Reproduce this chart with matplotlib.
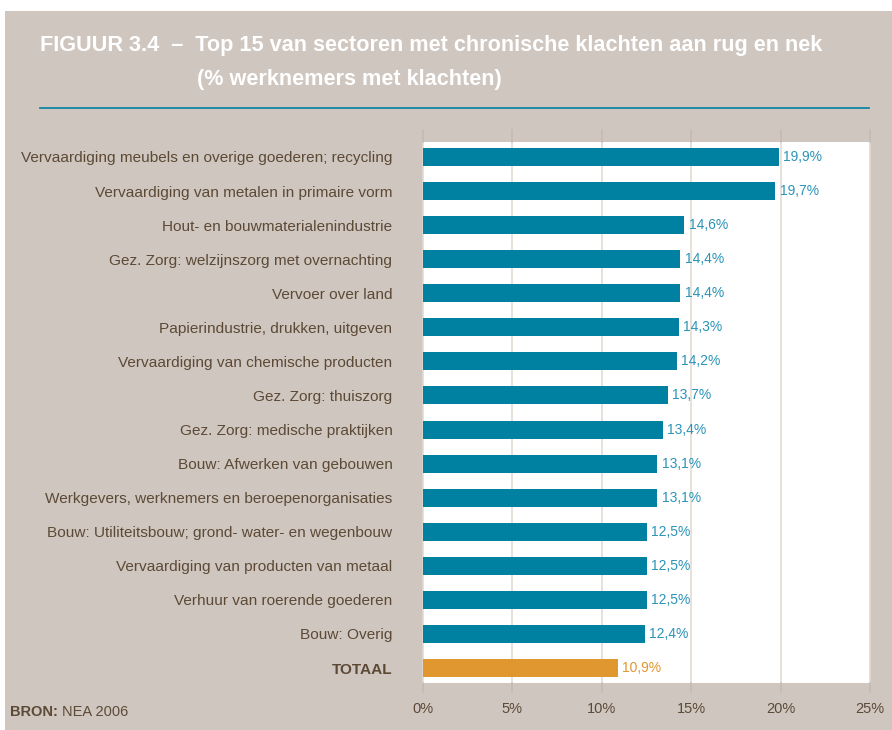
import matplotlib.pyplot as plt
import numpy as np

sectors = [
    "Vervaardiging meubels en overige goederen; recycling",
    "Vervaardiging van metalen in primaire vorm",
    "Hout- en bouwmaterialenindustrie",
    "Gez. Zorg: welzijnszorg met overnachting",
    "Vervoer over land",
    "Papierindustrie, drukken, uitgeven",
    "Vervaardiging van chemische producten",
    "Gez. Zorg: thuiszorg",
    "Gez. Zorg: medische praktijken",
    "Bouw: Afwerken van gebouwen",
    "Werkgevers, werknemers en beroepenorganisaties",
    "Bouw: Utiliteitsbouw; grond- water- en wegenbouw",
    "Vervaardiging van producten van metaal",
    "Verhuur van roerende goederen",
    "Bouw: Overig",
    "TOTAAL",
]
pct = [19.9, 19.7, 14.6, 14.4, 14.4, 14.3, 14.2, 13.7, 13.4, 13.1, 13.1, 12.5, 12.5, 12.5, 12.4, 10.9]
xticks = [0, 5, 10, 15, 20, 25]

BG = "#cfc6bf"
TEAL = "#0081a1"
ORANGE = "#e1972f"
TEXT = "#5c4a36"
VAL = "#2a94b8"

plt.rcParams['font.family'] = ['Liberation Sans', 'DejaVu Sans']

fig = plt.figure(figsize=(8.92, 7.3), dpi=100, facecolor="white")
# beige panel behind everything
fig.patches.append(plt.Rectangle((5 / 892, 0), 1, 1 - 11 / 730, transform=fig.transFigure,
                                 facecolor=BG, edgecolor="none", zorder=-5))

ax = fig.add_axes([423 / 892, 47 / 730, 447 / 892, 541 / 730])
ax.set_facecolor("white")
y = np.arange(len(sectors))
colors = [TEAL] * (len(sectors) - 1) + [ORANGE]
ax.barh(y, pct, height=0.53, color=colors, zorder=3)
ax.set_xlim(0, 25)
ax.set_ylim(len(sectors) - 0.56, -0.44)

for s in ax.spines.values():
    s.set_visible(False)
ax.tick_params(length=0)
ax.set_yticks(y)
ax.set_yticklabels(sectors, fontsize=11.1, color=TEXT)
ax.get_yticklabels()[-1].set_fontweight("bold")
ax.set_xticks(xticks)
ax.set_xticklabels([f"{t}%" for t in xticks], fontsize=10.5, color=TEXT)
ax.tick_params(axis="x", pad=14)
ax.tick_params(axis="y", pad=22)

# grid lines: light inside the white area, slightly darker where they run into the panel
for t in xticks:
    ax.plot([t, t], [-0.44, len(sectors) - 0.56], color="#e0d9d2", lw=1.1,
            zorder=1, clip_on=False)
    ax.plot([t, t], [-0.8, -0.44], color="#c4bab2", lw=1.1, zorder=1, clip_on=False)
    ax.plot([t, t], [len(sectors) - 0.56, len(sectors) - 0.3], color="#c4bab2", lw=1.1,
            zorder=1, clip_on=False)

for i, v in enumerate(pct):
    c = ORANGE if i == len(pct) - 1 else VAL
    ax.text(v + 0.25, i, f"{v:.1f}%".replace(".", ","), va="center", ha="left",
            fontsize=10, color=c, zorder=4)

fig.text(40 / 892, 1 - 45 / 730,
         "FIGUUR 3.4  –  Top 15 van sectoren met chronische klachten aan rug en nek",
         color="white", fontsize=15.6, fontweight="bold", va="center")
fig.text(197 / 892, 1 - 80 / 730, "(% werknemers met klachten)",
         color="white", fontsize=15.6, fontweight="bold", va="center")
fig.add_artist(plt.Line2D([40 / 892, 869 / 892], [1 - 108 / 730, 1 - 108 / 730],
                          color=TEAL, lw=1.2, transform=fig.transFigure))

bron = fig.text(10 / 892, 1 - 712 / 730, "BRON:", color=TEXT, fontsize=10.5,
                fontweight="bold", va="center")
ax.annotate("NEA 2006", xy=(1, 0.5), xycoords=bron, xytext=(3, 0),
            textcoords="offset points", va="center", ha="left",
            color=TEXT, fontsize=10.5, annotation_clip=False)

plt.savefig("out.png", dpi=100, facecolor=fig.get_facecolor())
